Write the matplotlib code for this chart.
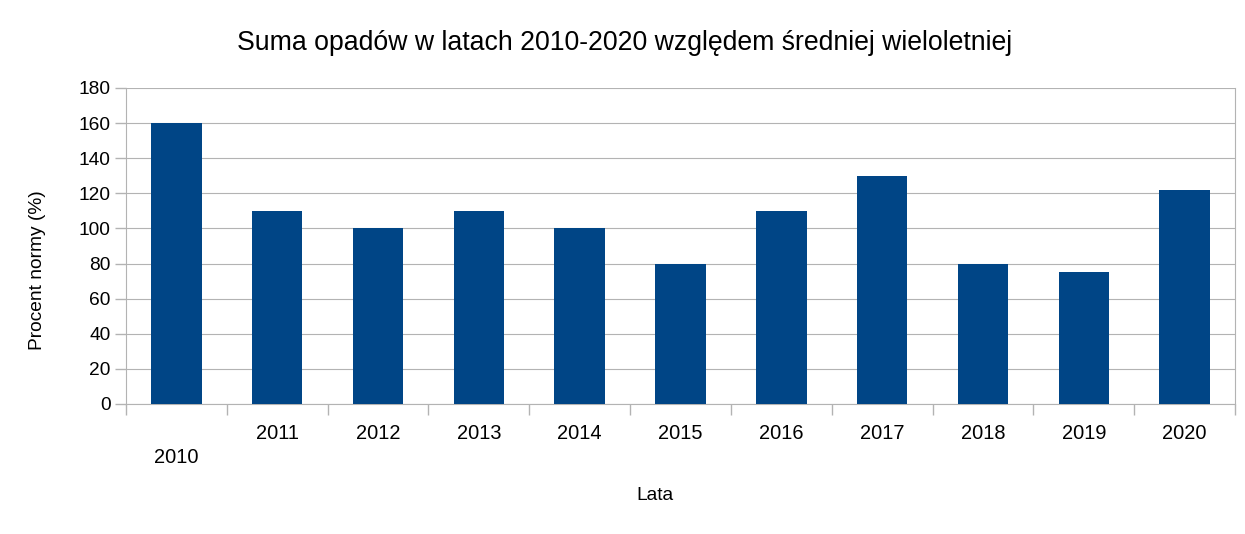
import matplotlib.pyplot as plt
import matplotlib.transforms as mtransforms
import numpy as np

plt.rcParams.update({"font.family": ["Liberation Sans", "DejaVu Sans"], "font.size": 13.8})

# data
years = ["2010", "2011", "2012", "2013", "2014", "2015",
         "2016", "2017", "2018", "2019", "2020"]
percent = [160, 110, 100, 110, 100, 80, 110, 130, 80, 75, 122]

bar_color = "#004586"
line_color = "#b3b3b3"

fig = plt.figure(figsize=(12.45, 5.34), dpi=100)
ax = fig.add_axes([126 / 1245, 1 - 404 / 534, 1109 / 1245, 316 / 534])

x = np.arange(len(years))
ax.bar(x, percent, width=0.5, color=bar_color, zorder=3)

ax.set_xlim(-0.5, len(years) - 0.5)
ax.set_ylim(0, 180)
ax.set_yticks(range(0, 181, 20))

# ticks between categories, labels at category centres
ax.set_xticks(np.arange(-0.5, len(years), 1.0))
ax.set_xticklabels([])
ax.set_xticks(x, minor=True)
ax.set_xticklabels(years, minor=True, fontsize=14.4)
ax.tick_params(axis="x", which="major", length=8, color=line_color, width=1)
ax.tick_params(axis="x", which="minor", length=0, pad=14.5)
ax.tick_params(axis="y", length=8, color=line_color, width=1, pad=3)

# 2010 label sits one row lower
lbl = ax.xaxis.get_minorticklabels()[0]
lbl.set_transform(lbl.get_transform() + mtransforms.ScaledTranslation(0, -24 / 100, fig.dpi_scale_trans))

ax.grid(axis="y", color=line_color, linewidth=0.8, zorder=0)
ax.spines["top"].set_visible(False)
for s in ["left", "right", "bottom"]:
    ax.spines[s].set_color(line_color)
    ax.spines[s].set_linewidth(0.8)

ax.set_ylabel("Procent normy (%)", va="center")
ax.yaxis.set_label_coords(-0.08, 0.424)
ax.set_xlabel("Lata", va="center")
ax.xaxis.set_label_coords(0.477, -0.29)

fig.suptitle("Suma opadów w latach 2010-2020 względem średniej wieloletniej",
             x=0.502, y=1 - 43 / 534, va="center", fontsize=19.2)

fig.savefig("out.png", dpi=100)
